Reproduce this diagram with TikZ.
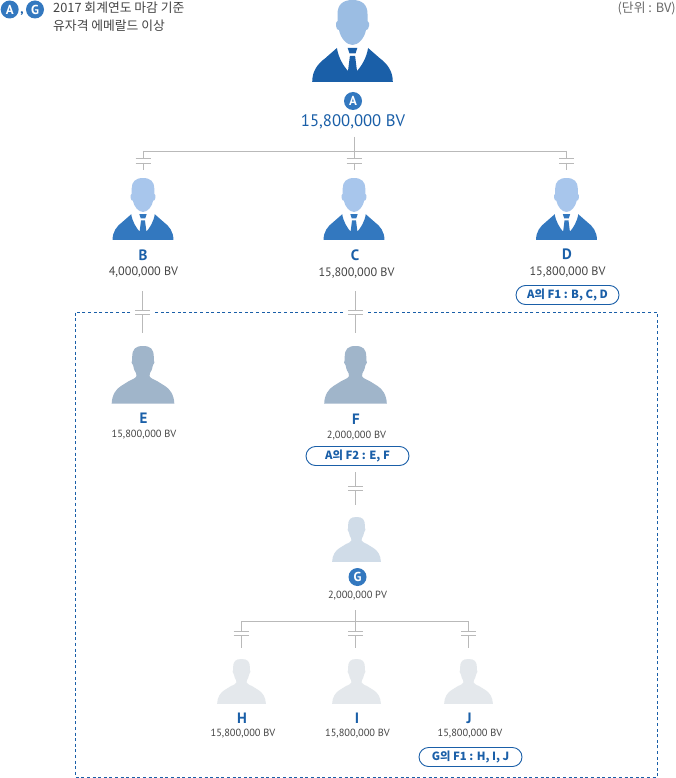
\documentclass[tikz,border=0pt]{standalone}
\usepackage{fontspec}
\setmainfont{PT Sans}
\newfontfamily\kr{Noto Sans CJK KR}
\usetikzlibrary{calc}
\definecolor{deep}{HTML}{1A5FA8}
\definecolor{midb}{HTML}{3378BF}
\definecolor{headA}{HTML}{9BBDE3}
\definecolor{headB}{HTML}{A8C6EC}
\definecolor{slate}{HTML}{A0B5CA}
\definecolor{pale}{HTML}{D0DCE8}
\definecolor{faint}{HTML}{E4E8EC}
\definecolor{linegray}{HTML}{B9B9B9}
\definecolor{txt}{HTML}{444444}
\tikzset{
  x=1pt,y=-1pt,
  barline/.style={draw=linegray,line width=0.9pt},
  badge/.style={circle,fill=midb,text=white,inner sep=0pt,minimum size=18pt,font=\fontsize{13}{13}\selectfont\bfseries},
  person/.style={text=deep,inner sep=0pt,font=\fontsize{15}{15}\selectfont\bfseries},
  valm/.style={text=txt,inner sep=0pt,font=\fontsize{12.2}{12}\selectfont},
  vals/.style={text=txt,inner sep=0pt,font=\fontsize{10.4}{10}\selectfont},
  pill/.style={draw=deep,fill=white,line width=0.9pt,rounded corners=9.5pt,minimum width=103pt,minimum height=19pt,inner sep=0pt,text=deep,font=\kr\fontsize{11.3}{10}\selectfont\bfseries},
  note/.style={text=txt,inner sep=0pt,anchor=west,font=\kr\fontsize{12.8}{12}\selectfont}
}
% suit figure: cx, top, scale, head colour, body colour
\newcommand{\suitfig}[5]{%
\begin{scope}[shift={(#1,#2)},scale=#3]
\fill[#4] (0,0) .. controls (-10,0) and (-15,5) .. (-15,14) -- (-15,21)
  .. controls (-16.5,21.5) and (-17,24) .. (-16.5,26) .. controls (-16,29) and (-15,30) .. (-13.5,30)
  .. controls (-12,38) and (-6,45) .. (0,45) .. controls (6,45) and (12,38) .. (13.5,30)
  .. controls (15,30) and (16,29) .. (16.5,26) .. controls (17,24) and (16.5,21.5) .. (15,21)
  -- (15,14) .. controls (15,5) and (10,0) .. (0,0) -- cycle;
\fill[#5] (-40.3,82) .. controls (-40.3,71) and (-35,64) .. (-27,58) -- (-15.6,48)
  .. controls (-14,58) and (-9,66) .. (-4.5,71) -- (-2.6,56) -- (2.6,56) -- (4.5,71)
  .. controls (9,66) and (14,58) .. (15.6,48) -- (27,58) .. controls (35,64) and (40.3,71) .. (40.3,82) -- cycle;
\fill[#5] (-4.8,48) -- (4.8,48) -- (3,53.5) -- (-3,53.5) -- cycle;
\end{scope}}
% plain figure: cx, top, scale, colour
\newcommand{\plainfig}[4]{%
\begin{scope}[shift={(#1,#2)},scale=#3]
\fill[#4] (0,0) .. controls (-7.5,0) and (-10.8,3) .. (-10.8,11) -- (-10.8,14)
  .. controls (-11.8,15) and (-11.8,18) .. (-9.8,19.5) .. controls (-9.3,23) and (-8,26) .. (-7,27)
  -- (-6.5,30) .. controls (-7,32) and (-10,33) .. (-14,35) -- (-22,40)
  .. controls (-27,43) and (-31,49) .. (-31.3,57.5) -- (31.3,57.5)
  .. controls (31,49) and (27,43) .. (22,40) -- (14,35) .. controls (10,33) and (7,32) .. (6.5,30)
  -- (7,27) .. controls (8,26) and (9.3,23) .. (9.8,19.5) .. controls (11.8,18) and (11.8,15) .. (10.8,14)
  -- (10.8,11) .. controls (10.8,3) and (7.5,0) .. (0,0) -- cycle;
\end{scope}}
% capacitor-like link: name, x, y-start, y-bar1, y-bar2, y-end, half width
\newcommand{\barlink}[7]{%
\coordinate (#1s) at (#2,#3);
\coordinate (#1a) at (#2,#4);
\coordinate (#1b) at (#2,#5);
\coordinate (#1e) at (#2,#6);
\draw[barline] (#1s) -- (#1a);
\draw[barline] (#1b) -- (#1e);
\draw[barline] ($(#1a)+(-#7,0)$) -- ($(#1a)+(#7,0)$);
\draw[barline] ($(#1b)+(-#7,0)$) -- ($(#1b)+(#7,0)$);}
\begin{document}
\begin{tikzpicture}
\useasboundingbox (0,0) rectangle (676,778);
\fill[white] (0,0) rectangle (676,778);
% header
\node[badge] (legA) at (9.7,9.5) {A};
\node[inner sep=0pt,text=deep,font=\fontsize{13}{13}\selectfont\bfseries] (legC) at (22,13.5) {,};
\node[badge] (legG) at (35,9.5) {G};
\node[note] (n1) at (53,8) {2017 회계연도 마감 기준};
\node[note] (n2) at (53,26) {유자격 에메랄드 이상};
\node[note,anchor=east,text=txt!80] (unit) at (676,8) {(단위 : BV)};
% dashed frame
\draw[deep,line width=0.9pt,dash pattern=on 3pt off 2.6pt] (75.5,312.5) rectangle (657.5,777);
\fill[white] (132,308) rectangle (153,317);
\fill[white] (345,308) rectangle (366,317);
% figures
\suitfig{352.5}{0}{1}{headA}{deep}
\suitfig{143}{178}{0.755}{headB}{midb}
\suitfig{354}{178}{0.755}{headB}{midb}
\suitfig{566.5}{178}{0.755}{headB}{midb}
\plainfig{143}{346}{1}{slate}
\plainfig{355.5}{346}{1}{slate}
\plainfig{356.5}{517}{0.78}{pale}
\plainfig{241.5}{659}{0.78}{faint}
\plainfig{356.5}{659}{0.78}{faint}
\plainfig{468.5}{659}{0.78}{faint}
% labels
\node[badge] (a) at (353,101) {A};
\node[text=deep,inner sep=0pt,font=\fontsize{16.7}{16}\selectfont] (av) at (353,122) {15,800,000 BV};
\node[person] (b) at (143,255) {B};
\node[valm] (bv) at (143.5,272) {4,000,000 BV};
\node[person] (c) at (355,255) {C};
\node[valm] (cv) at (356.5,273) {15,800,000 BV};
\node[person] (d) at (567,254) {D};
\node[valm] (dv) at (567.5,272) {15,800,000 BV};
\node[pill] (dp) at (567.5,295) {A의 F1 : B, C, D};
\node[person] (e) at (143.5,418) {E};
\node[vals] (ev) at (144,435) {15,800,000 BV};
\node[person] (f) at (356,419) {F};
\node[vals] (fv) at (356.5,436) {2,000,000 BV};
\node[pill] (fp) at (357.5,456) {A의 F2 : E, F};
\node[badge] (g) at (357.5,577) {G};
\node[vals] (gv) at (357.5,596) {2,000,000 PV};
\node[person] (h) at (242,718) {H};
\node[vals] (hv) at (243,734) {15,800,000 BV};
\node[person] (i) at (357,718) {I};
\node[vals] (iv) at (357.5,734) {15,800,000 BV};
\node[person] (j) at (469,718) {J};
\node[vals] (jv) at (470,734) {15,800,000 BV};
\node[pill] (jp) at (470.5,757) {G의 F1 : H, I, J};
% connectors
\coordinate (topbusL) at (143,151);
\coordinate (topbusR) at (566.5,151);
\barlink{lb}{143}{151}{158.5}{163}{170}{7.5}
\barlink{lc}{354}{137}{158.5}{163}{170}{7.5}
\barlink{ld}{566.5}{151}{158.5}{163}{170}{7.5}
\draw[barline] (topbusL) -- (topbusR);
\barlink{be}{142.5}{291}{310}{314.5}{333}{7.5}
\barlink{cf}{355.5}{291}{310}{314.5}{333}{7.5}
\barlink{fg}{355.5}{472}{486}{490.5}{505}{7.5}
\coordinate (botL) at (241,621);
\coordinate (botR) at (468.5,621);
\barlink{lh}{241}{621}{631}{635.5}{648}{7.5}
\barlink{li}{355.5}{610}{631}{635.5}{648}{7.5}
\barlink{lj}{468.5}{621}{631}{635.5}{648}{7.5}
\draw[barline] (botL) -- (botR);
\end{tikzpicture}
\end{document}
